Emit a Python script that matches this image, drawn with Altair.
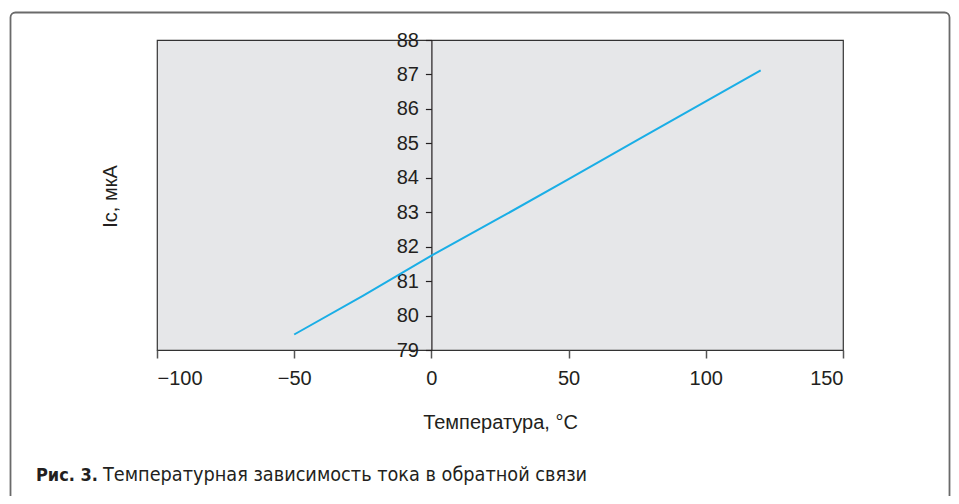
import altair as alt
import pandas as pd

# Data
temperature = [-50, -25, 0, 25, 50, 75, 100, 120]
current_ua = [79.45, 80.57, 81.74, 82.84, 83.96, 85.09, 86.22, 87.12]

x_ticks = [-100, -50, 0, 50, 100, 150]
y_ticks = [79, 80, 81, 82, 83, 84, 85, 86, 87, 88]

x_title = "Температура, °C"
y_title = "Ic, мкА"
caption_bold = "Рис. 3."
caption_text = "Температурная зависимость тока в обратной связи"

df = pd.DataFrame({"t": temperature, "i": current_ua})

FONT = "Liberation Sans"
NARROW = "Liberation Sans Narrow, DejaVu Sans Condensed, Roboto, sans-serif"
W, H = 686, 310

line = alt.Chart(df).mark_line(color="#1aaee6", strokeWidth=2).encode(
    x=alt.X(
        "t:Q",
        scale=alt.Scale(domain=[-100, 150], nice=False, zero=False),
        axis=alt.Axis(
            values=x_ticks, title=x_title, grid=False, domain=False,
            tickSize=8, tickColor="#555555", tickWidth=1.5,
            labelFont=FONT, labelFontSize=20, labelColor="#231f20", labelPadding=10,
            titleFont=FONT, titleFontSize=20, titleFontWeight="normal",
            titleColor="#231f20", titlePadding=24,
        ),
    ),
    y=alt.Y(
        "i:Q",
        scale=alt.Scale(domain=[79, 88], nice=False, zero=False),
        axis=alt.Axis(
            values=y_ticks, title=y_title, grid=False, offset=-274.4,
            domainColor="#231f20", domainWidth=1.2,
            tickSize=6, tickColor="#231f20", tickWidth=1.2,
            labelFont=FONT, labelFontSize=20, labelColor="#231f20", labelPadding=7,
            titleFont=FONT, titleFontSize=20, titleFontWeight="normal",
            titleColor="#231f20", titleX=-321.4, titleY=156,
            titleAlign="center", titleBaseline="middle", titleAngle=-90,
        ),
    ),
)

one = alt.Data(values=[{"k": 1}])

frame = alt.Chart(one).mark_rect(
    fillOpacity=0, stroke="#6a6a6a", strokeWidth=1.8, cornerRadius=5
).encode(
    x=alt.value(-146.5), x2=alt.value(792.5),
    y=alt.value(-27.5), y2=alt.value(500),
)

cap1 = alt.Chart(one).mark_text(
    text=caption_bold, font=NARROW, fontSize=18, fontWeight="bold",
    align="left", baseline="alphabetic", color="#231f20",
).encode(x=alt.value(-121), y=alt.value(441))

cap2 = alt.Chart(one).mark_text(
    text=caption_text, font=NARROW, fontSize=19.7, fontWeight="normal",
    align="left", baseline="alphabetic", color="#231f20",
).encode(x=alt.value(-54), y=alt.value(441))

chart = alt.layer(line, frame, cap1, cap2).properties(
    width=W, height=H,
    autosize=alt.AutoSizeParams(type="none"),
    padding={"left": 149, "top": 32, "right": 108, "bottom": 146},
    background="white",
).configure_view(
    fill="#e6e7e9", stroke="#333333", strokeWidth=1.2,
)

chart.save("out.html", embed_options={"renderer": "svg", "actions": False})
